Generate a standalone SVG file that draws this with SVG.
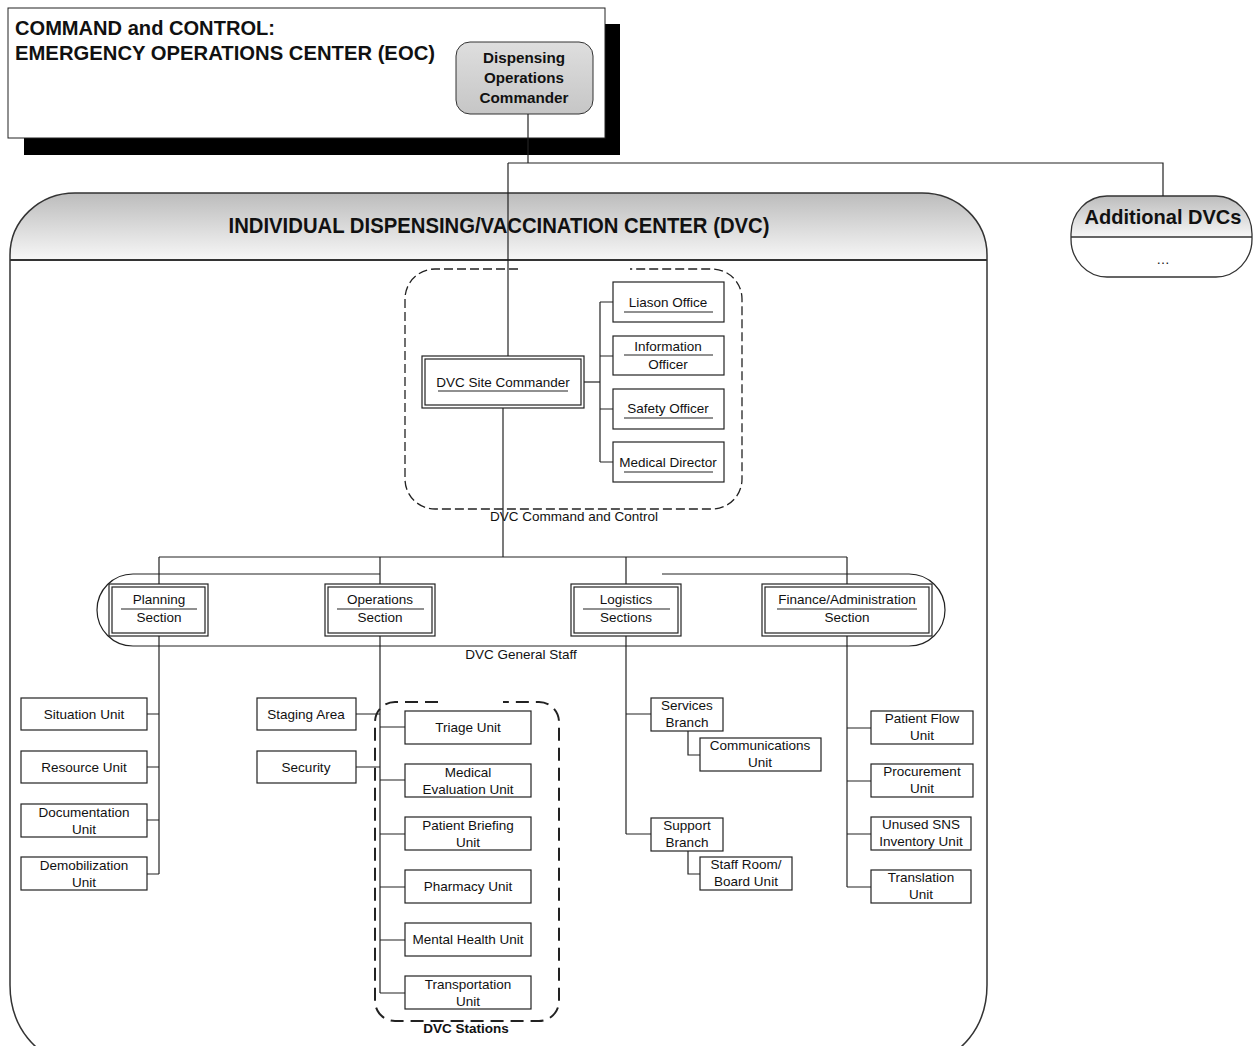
<svg xmlns="http://www.w3.org/2000/svg" width="1254" height="1046" viewBox="0 0 1254 1046">
<defs>
<linearGradient id="hdr" x1="0" y1="0" x2="0" y2="1">
<stop offset="0" stop-color="#bcbcbc"/>
<stop offset="1" stop-color="#f7f7f7"/>
</linearGradient>
<linearGradient id="doc" x1="0" y1="0" x2="0" y2="1">
<stop offset="0" stop-color="#dedede"/>
<stop offset="1" stop-color="#c6c6c6"/>
</linearGradient>
<clipPath id="addClip"><rect x="1071" y="196" width="181" height="81" rx="36" ry="38"/></clipPath>
<style>
text{font-family:"Liberation Sans",Arial,Helvetica,sans-serif;fill:#111;}
.t{font-size:13.5px;text-anchor:middle;}
.lbl{font-size:13.5px;text-anchor:middle;}
.bold{font-weight:bold;}
.box{fill:#fff;stroke:#222;stroke-width:1.2;}
.dbl{fill:none;stroke:#222;stroke-width:1.2;}
.ul{stroke:#222;stroke-width:1.2;}
.con{fill:none;stroke:#222;stroke-width:1.2;}
.dash1{fill:none;stroke:#222;stroke-width:1.3;stroke-dasharray:9,4;}
.dash2{fill:none;stroke:#222;stroke-width:2;stroke-dasharray:13,7;}
</style>
</defs>
<rect width="1254" height="1046" fill="#fff"/>

<!-- EOC -->
<g id="eoc">
<rect x="24" y="24" width="596" height="131" fill="#000"/>
<rect x="8" y="8" width="597" height="130" fill="#fff" stroke="#222" stroke-width="1"/>
<text x="15" y="35" class="bold" style="font-size:20.5px" textLength="260" lengthAdjust="spacingAndGlyphs">COMMAND and CONTROL:</text>
<text x="15" y="60" class="bold" style="font-size:20.5px" textLength="420" lengthAdjust="spacingAndGlyphs">EMERGENCY OPERATIONS CENTER (EOC)</text>
</g>
<g id="doc-node">
<rect x="456" y="42" width="137" height="72" rx="14" fill="url(#doc)" stroke="#333" stroke-width="1"/>
<text x="524" y="63" class="t bold" style="font-size:15.5px" textLength="82" lengthAdjust="spacingAndGlyphs">Dispensing</text>
<text x="524" y="83" class="t bold" style="font-size:15.5px" textLength="80" lengthAdjust="spacingAndGlyphs">Operations</text>
<text x="524" y="103" class="t bold" style="font-size:15.5px" textLength="89" lengthAdjust="spacingAndGlyphs">Commander</text>
</g>

<!-- DVC container -->
<g id="dvc">
<path d="M10,260 L10,255 A65,62 0 0 1 75,193 L922,193 A65,62 0 0 1 987,255 L987,260 Z" fill="url(#hdr)"/>
<path d="M10,255 A65,62 0 0 1 75,193 L922,193 A65,62 0 0 1 987,255 L987,985 A60,75 0 0 1 927,1060 L70,1060 A60,75 0 0 1 10,985 Z" fill="none" stroke="#333" stroke-width="1.5"/>
<line x1="10" y1="260" x2="987" y2="260" stroke="#333" stroke-width="2"/>
<text x="499" y="233" class="t bold" style="font-size:22px" textLength="541" lengthAdjust="spacingAndGlyphs">INDIVIDUAL DISPENSING/VACCINATION CENTER (DVC)</text>
</g>

<!-- Additional DVCs -->
<g id="additional-dvcs">
<rect x="1071" y="196" width="181" height="41" fill="url(#hdr)" clip-path="url(#addClip)"/>
<rect x="1071" y="196" width="181" height="81" rx="36" ry="38" fill="none" stroke="#333" stroke-width="1.3"/>
<line x1="1071" y1="237" x2="1252" y2="237" stroke="#333" stroke-width="1.3"/>
<text x="1163" y="224" class="t bold" style="font-size:21px" textLength="157" lengthAdjust="spacingAndGlyphs">Additional DVCs</text>
<text x="1163" y="264" class="t">…</text>
</g>

<!-- Grouping frames -->
<g id="dvc-command-and-control">
<path class="dash1" d="M518,269 L435,269 A30,30 0 0 0 405,299 L405,479 A30,30 0 0 0 435,509 L712,509 A30,30 0 0 0 742,479 L742,299 A30,30 0 0 0 712,269 L630,269"/>
<text x="574" y="521" class="lbl">DVC Command and Control</text>
</g>
<g id="dvc-general-staff">
<path class="con" d="M380,574 L133,574 A36,36 0 0 0 97,610 A36,36 0 0 0 133,646 L909,646 A36,36 0 0 0 945,610 A36,36 0 0 0 909,574 L662,574"/>
<text x="521" y="659" class="lbl">DVC General Staff</text>
</g>
<g id="dvc-stations">
<path class="dash2" d="M438,702 L395,702 A20,20 0 0 0 375,722 L375,1001 A20,20 0 0 0 395,1021 L539,1021 A20,20 0 0 0 559,1001 L559,722 A20,20 0 0 0 539,702 L503,702"/>
<text x="466" y="1033" class="lbl bold">DVC Stations</text>
</g>

<!-- Connectors -->
<g id="connectors" class="con">
<path d="M528,114 V163"/>
<path d="M508,163 H1163 V196"/>
<path d="M508,163 V356"/>
<path d="M584,382 H600"/>
<path d="M600,302 V462"/>
<path d="M600,302 H613 M600,356 H613 M600,409 H613 M600,462 H613"/>
<path d="M503,408 V557"/>
<path d="M159,557 H847"/>
<path d="M159,557 V584 M380,557 V584 M626,557 V584 M847,557 V584"/>
<path d="M159,636 V874"/>
<path d="M147,714 H159 M147,767 H159 M147,820 H159 M147,874 H159"/>
<path d="M380,636 V993"/>
<path d="M356,714 H380 M356,767 H380"/>
<path d="M380,727 H405 M380,780 H405 M380,834 H405 M380,887 H405 M380,940 H405 M380,993 H405"/>
<path d="M626,636 V834"/>
<path d="M626,714 H651 M626,834 H651"/>
<path d="M688,731 V755 H700"/>
<path d="M688,851 V874 H700"/>
<path d="M847,636 V887"/>
<path d="M847,728 H871 M847,781 H871 M847,834 H871 M847,887 H871"/>
</g>

<!-- Site commander -->
<g id="dvc-site-commander">
<rect x="422" y="356" width="162" height="52" class="box"/>
<rect x="425" y="359" width="156" height="46" class="dbl"/>
<text x="503" y="387" class="t">DVC Site Commander</text>
<line x1="438" y1="391" x2="568" y2="391" class="ul"/>
</g>
<g id="liason-office">
<rect x="613" y="282" width="111" height="40" class="box"/>
<text x="668" y="307" class="t">Liason Office</text>
<line x1="624" y1="312" x2="713" y2="312" class="ul"/>
</g>
<g id="information-officer">
<rect x="613" y="336" width="111" height="39" class="box"/>
<text x="668" y="351" class="t">Information</text>
<line x1="624" y1="355" x2="713" y2="355" class="ul"/>
<text x="668" y="369" class="t">Officer</text>
</g>
<g id="safety-officer">
<rect x="613" y="389" width="111" height="40" class="box"/>
<text x="668" y="413" class="t">Safety Officer</text>
<line x1="624" y1="418" x2="713" y2="418" class="ul"/>
</g>
<g id="medical-director">
<rect x="613" y="442" width="111" height="40" class="box"/>
<text x="668" y="467" class="t">Medical Director</text>
<line x1="624" y1="472" x2="713" y2="472" class="ul"/>
</g>

<!-- Sections -->
<g id="planning-section">
<rect x="109" y="584" width="99" height="52" class="box"/>
<rect x="112" y="587" width="93" height="46" class="dbl"/>
<text x="159" y="604" class="t">Planning</text>
<line x1="121" y1="609" x2="197" y2="609" class="ul"/>
<text x="159" y="622" class="t">Section</text>
</g>
<g id="operations-section">
<rect x="325" y="584" width="110" height="52" class="box"/>
<rect x="328" y="587" width="104" height="46" class="dbl"/>
<text x="380" y="604" class="t">Operations</text>
<line x1="337" y1="609" x2="424" y2="609" class="ul"/>
<text x="380" y="622" class="t">Section</text>
</g>
<g id="logistics-sections">
<rect x="571" y="584" width="110" height="52" class="box"/>
<rect x="574" y="587" width="104" height="46" class="dbl"/>
<text x="626" y="604" class="t">Logistics</text>
<line x1="583" y1="609" x2="670" y2="609" class="ul"/>
<text x="626" y="622" class="t">Sections</text>
</g>
<g id="finance-administration-section">
<rect x="762" y="584" width="170" height="52" class="box"/>
<rect x="765" y="587" width="164" height="46" class="dbl"/>
<text x="847" y="604" class="t">Finance/Administration</text>
<line x1="777" y1="609" x2="917" y2="609" class="ul"/>
<text x="847" y="622" class="t">Section</text>
</g>

<!-- Planning units -->
<g id="situation-unit"><rect x="21" y="698" width="126" height="32" class="box"/><text x="84" y="719" class="t">Situation Unit</text></g>
<g id="resource-unit"><rect x="21" y="751" width="126" height="32" class="box"/><text x="84" y="772" class="t">Resource Unit</text></g>
<g id="documentation-unit"><rect x="21" y="804" width="126" height="33" class="box"/><text x="84" y="817" class="t">Documentation</text><text x="84" y="834" class="t">Unit</text></g>
<g id="demobilization-unit"><rect x="21" y="857" width="126" height="33" class="box"/><text x="84" y="870" class="t">Demobilization</text><text x="84" y="887" class="t">Unit</text></g>

<!-- Operations units -->
<g id="staging-area"><rect x="257" y="698" width="99" height="32" class="box"/><text x="306" y="719" class="t">Staging Area</text></g>
<g id="security"><rect x="257" y="751" width="99" height="32" class="box"/><text x="306" y="772" class="t">Security</text></g>
<g id="triage-unit"><rect x="405" y="711" width="126" height="33" class="box"/><text x="468" y="732" class="t">Triage Unit</text></g>
<g id="medical-evaluation-unit"><rect x="405" y="764" width="126" height="33" class="box"/><text x="468" y="777" class="t">Medical</text><text x="468" y="794" class="t">Evaluation Unit</text></g>
<g id="patient-briefing-unit"><rect x="405" y="817" width="126" height="33" class="box"/><text x="468" y="830" class="t">Patient Briefing</text><text x="468" y="847" class="t">Unit</text></g>
<g id="pharmacy-unit"><rect x="405" y="870" width="126" height="33" class="box"/><text x="468" y="891" class="t">Pharmacy Unit</text></g>
<g id="mental-health-unit"><rect x="405" y="923" width="126" height="33" class="box"/><text x="468" y="944" class="t">Mental Health Unit</text></g>
<g id="transportation-unit"><rect x="405" y="976" width="126" height="33" class="box"/><text x="468" y="989" class="t">Transportation</text><text x="468" y="1006" class="t">Unit</text></g>

<!-- Logistics units -->
<g id="services-branch"><rect x="651" y="698" width="72" height="33" class="box"/><text x="687" y="710" class="t">Services</text><text x="687" y="727" class="t">Branch</text></g>
<g id="communications-unit"><rect x="700" y="738" width="121" height="33" class="box"/><text x="760" y="750" class="t">Communications</text><text x="760" y="767" class="t">Unit</text></g>
<g id="support-branch"><rect x="651" y="818" width="72" height="33" class="box"/><text x="687" y="830" class="t">Support</text><text x="687" y="847" class="t">Branch</text></g>
<g id="staff-room-board-unit"><rect x="700" y="857" width="92" height="33" class="box"/><text x="746" y="869" class="t">Staff Room/</text><text x="746" y="886" class="t">Board Unit</text></g>

<!-- Finance units -->
<g id="patient-flow-unit"><rect x="871" y="711" width="102" height="33" class="box"/><text x="922" y="723" class="t">Patient Flow</text><text x="922" y="740" class="t">Unit</text></g>
<g id="procurement-unit"><rect x="871" y="764" width="102" height="33" class="box"/><text x="922" y="776" class="t">Procurement</text><text x="922" y="793" class="t">Unit</text></g>
<g id="unused-sns-inventory-unit"><rect x="871" y="817" width="100" height="33" class="box"/><text x="921" y="829" class="t">Unused SNS</text><text x="921" y="846" class="t">Inventory Unit</text></g>
<g id="translation-unit"><rect x="871" y="870" width="100" height="33" class="box"/><text x="921" y="882" class="t">Translation</text><text x="921" y="899" class="t">Unit</text></g>
</svg>
